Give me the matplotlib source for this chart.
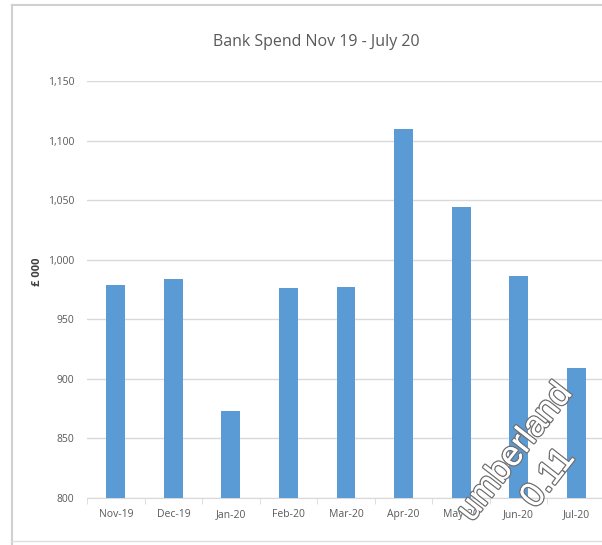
import matplotlib
matplotlib.use("Agg")
import matplotlib.pyplot as plt
import matplotlib.patheffects as pe
from matplotlib.lines import Line2D
from matplotlib.ticker import FuncFormatter

categories = ["Nov-19", "Dec-19", "Jan-20", "Feb-20", "Mar-20", "Apr-20", "May-20", "Jun-20", "Jul-20"]
values = [979, 984, 873, 976, 977, 1110, 1044, 986, 909]
yticks = [800, 850, 900, 950, 1000, 1050, 1100, 1150]

plt.rcParams['font.family'] = ['Open Sans', 'DejaVu Sans']

W, H = 602, 545
fig = plt.figure(figsize=(W / 100, H / 100), dpi=100)
ax = fig.add_axes([87 / W, 47 / H, (605 - 87) / W, (464 - 47) / H])

x = list(range(len(categories)))
ax.bar(x, values, width=0.33, color="#5b9bd5", zorder=3, bottom=0)
ax.set_xlim(-0.5, len(categories) - 0.5)
ax.set_ylim(800, 1150)
ax.set_yticks(yticks)
ax.yaxis.set_major_formatter(FuncFormatter(lambda v, p: f"{int(v):,}"))
ax.set_xticks(x)
ax.set_xticklabels(categories)
ax.set_xticks([i + 0.5 for i in range(-1, len(categories))], minor=True)

ax.grid(axis="y", color="#d9d9d9", linewidth=1, zorder=0)
for s in ["top", "right", "left"]:
    ax.spines[s].set_visible(False)
ax.spines["bottom"].set_color("#d9d9d9")
ax.tick_params(axis="y", length=0, labelsize=7.5, labelcolor="#595959", pad=9)
ax.tick_params(axis="x", which="major", length=0, labelsize=7.5, labelcolor="#595959", pad=8)
ax.tick_params(axis="x", which="minor", length=4, color="#d9d9d9")

fig.text(37 / W, 1 - 272 / H, "£ 000", rotation=90, fontsize=8, fontweight="bold",
         color="#404040", ha="center", va="center")
fig.text(316 / W, 1 - 42 / H, "Bank Spend Nov 19 - July 20", fontsize=11.5,
         color="#595959", ha="center", va="center")

# frame lines of the screenshot
fig.add_artist(Line2D([12 / W, 12 / W], [0, 1 - 5 / H], color="#d0d0d0", lw=1.5))
fig.add_artist(Line2D([12 / W, 1], [1 - 5 / H, 1 - 5 / H], color="#d0d0d0", lw=1.5))
fig.add_artist(Line2D([12 / W, 1], [4 / H, 4 / H], color="#e0e0e0", lw=1))

# watermark
wm_effect = [pe.withStroke(linewidth=2.0, foreground="#707070"), pe.Normal()]
fig.text(515 / W, 1 - 452 / H, "umberland", rotation=52, fontsize=25, color="white",
         family=["Liberation Sans", "DejaVu Sans"],
         ha="center", va="center", path_effects=wm_effect, zorder=10)
fig.text(548 / W, 1 - 478 / H, "0.11", rotation=52, fontsize=25, color="white",
         family=["Liberation Sans", "DejaVu Sans"],
         ha="center", va="center", path_effects=wm_effect, zorder=10)

fig.savefig("out.png", dpi=100)
